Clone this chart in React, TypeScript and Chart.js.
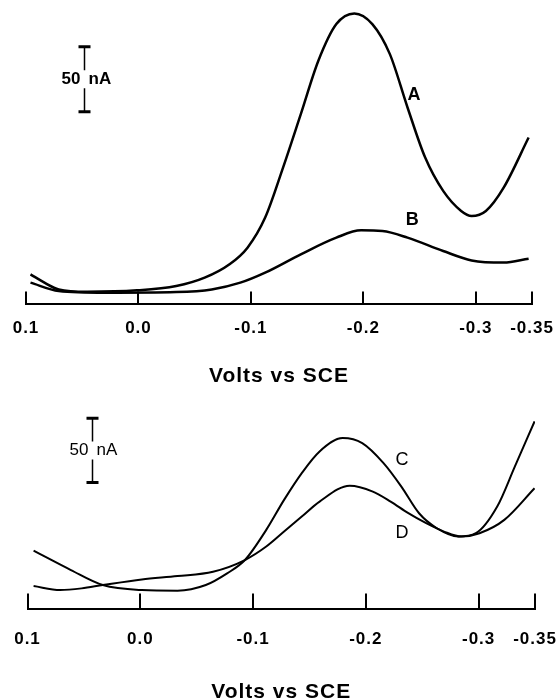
import React, { useEffect, useRef } from "react";
import Chart from "chart.js/auto";

// ---- shared axis ----
const tickValues = [0.1, 0.0, -0.1, -0.2, -0.3, -0.35];
const tickLabels = ["0.1", "0.0", "-0.1", "-0.2", "-0.3", "-0.35"];
const axisTitle = "Volts vs SCE";

// ---- top panel (A, B) : volts vs current (nA) ----
const voltsA = [0.096, 0.0836, 0.0709, 0.0456, 0.0012, -0.0336, -0.0589, -0.081, -0.097, -0.1127, -0.1286, -0.1444, -0.16, -0.176, -0.192, -0.208, -0.2236, -0.2393, -0.255, -0.271, -0.287, -0.2963, -0.309, -0.3248, -0.347];
const currentA = [23.1, 16.7, 11.5, 9.7, 10.8, 14.1, 20.5, 30.8, 43.6, 66.7, 105.1, 146.2, 187.2, 215.4, 223.6, 215.4, 192.3, 151.3, 112.8, 87.2, 71.8, 67.9, 71.8, 89.7, 128.2];

const voltsB = [0.096, 0.0709, 0.0297, -0.0336, -0.0652, -0.0906, -0.1127, -0.1444, -0.176, -0.198, -0.217, -0.2393, -0.271, -0.2963, -0.3248, -0.347];
const currentB = [16.7, 10.3, 9.0, 9.5, 11.5, 16.7, 24.4, 38.5, 51.3, 56.9, 56.4, 51.3, 41.0, 33.8, 32.1, 35.1];

// ---- bottom panel (C, D) ----
const voltsC = [0.0946, 0.0615, 0.0332, -0.0014, -0.033, -0.0581, -0.077, -0.0928, -0.1117, -0.1275, -0.1432, -0.159, -0.1795, -0.1968, -0.2157, -0.2315, -0.2472, -0.263, -0.2819, -0.2976, -0.3165, -0.3322, -0.3496];
const currentC = [45.8, 30.7, 19.0, 15.1, 14.6, 19.0, 28.1, 38.5, 62.0, 85.4, 106.3, 123.2, 133.6, 129.7, 114.1, 95.8, 75.0, 63.3, 56.8, 59.4, 80.2, 111.5, 146.6];

const voltsD = [0.0946, 0.071, 0.052, 0.0332, -0.0014, -0.033, -0.0645, -0.0928, -0.1117, -0.1275, -0.1432, -0.159, -0.1857, -0.2062, -0.222, -0.2377, -0.2535, -0.2693, -0.285, -0.3008, -0.3228, -0.3496];
const currentD = [18.2, 15.1, 16.4, 19.0, 23.4, 26.0, 29.4, 38.5, 49.0, 60.7, 72.4, 84.1, 96.4, 91.9, 84.1, 75.0, 67.2, 60.7, 56.8, 59.4, 69.8, 94.5];

const FONT = "'Liberation Sans', Arial, Helvetica, sans-serif";

const pts = (xs: number[], ys: number[]) => xs.map((v, i) => ({ x: v, y: ys[i] }));

const spacingPlugin = {
  id: "spacing",
  beforeInit(chart: any) {
    chart.ctx.letterSpacing = "1px";
  },
  beforeUpdate(chart: any) {
    chart.ctx.letterSpacing = "1px";
  },
  beforeDraw(chart: any) {
    chart.ctx.letterSpacing = "1px";
  },
};

const decorPlugin = {
  id: "decor",
  afterDatasetsDraw(chart: any, _args: any, opts: any) {
    const { ctx, chartArea } = chart;
    const x = chart.scales.x;
    const y = chart.scales.y;
    ctx.save();
    ctx.letterSpacing = "0px";
    ctx.strokeStyle = "#000";
    ctx.fillStyle = "#000";
    // upward tick marks
    ctx.lineWidth = 2;
    for (const v of tickValues) {
      const px = Math.round(x.getPixelForValue(v));
      ctx.beginPath();
      ctx.moveTo(px, chartArea.bottom);
      ctx.lineTo(px, chartArea.bottom - opts.tickLen);
      ctx.stroke();
    }
    // scale bar
    const bar = opts.bar;
    const bx = Math.round(x.getPixelForValue(bar.x)) + 0.5;
    const yTop = y.getPixelForValue(bar.to);
    const yBot = y.getPixelForValue(bar.from);
    const mid = (yTop + yBot) / 2;
    ctx.lineWidth = 1.5;
    ctx.beginPath();
    ctx.moveTo(bx, yTop);
    ctx.lineTo(bx, mid - 9);
    ctx.moveTo(bx, mid + 9);
    ctx.lineTo(bx, yBot);
    ctx.stroke();
    ctx.lineWidth = 3;
    ctx.beginPath();
    ctx.moveTo(bx - 6, yTop);
    ctx.lineTo(bx + 6, yTop);
    ctx.moveTo(bx - 6, yBot);
    ctx.lineTo(bx + 6, yBot);
    ctx.stroke();
    ctx.font = bar.font;
    ctx.textBaseline = "middle";
    ctx.textAlign = "right";
    ctx.fillText("50", bx - 4, mid);
    ctx.textAlign = "left";
    ctx.fillText("nA", bx + 4, mid);
    // curve letters
    ctx.textAlign = "center";
    for (const l of opts.letters) {
      ctx.font = l.font;
      ctx.fillText(l.text, x.getPixelForValue(l.x), y.getPixelForValue(l.y));
    }
    ctx.restore();
  },
};

type PanelProps = {
  width: number;
  height: number;
  top: number;
  series: { x: number; y: number }[][];
  lineWidth: number;
  yMax: number;
  pad: { left: number; right: number; top: number; bottom: number };
  tickPadding: number;
  titlePad: { top: number; bottom: number };
  decor: any;
};

function Panel(p: PanelProps) {
  const ref = useRef<HTMLCanvasElement | null>(null);
  useEffect(() => {
    if (!ref.current) return;
    const chart = new Chart(ref.current, {
      type: "line",
      data: {
        datasets: p.series.map((s) => ({
          data: s,
          borderColor: "#000",
          borderWidth: p.lineWidth,
          pointRadius: 0,
          fill: false,
          cubicInterpolationMode: "monotone" as const,
        })),
      },
      options: {
        animation: false,
        responsive: false,
        devicePixelRatio: 1,
        layout: { padding: p.pad },
        plugins: {
          legend: { display: false },
          tooltip: { enabled: false },
          decor: p.decor,
        } as any,
        scales: {
          x: {
            type: "linear",
            reverse: true,
            min: -0.35,
            max: 0.1,
            afterBuildTicks: (s: any) => {
              s.ticks = tickValues.map((v) => ({ value: v }));
            },
            afterFit: (s: any) => {
              s.paddingLeft = 0;
              s.paddingRight = 0;
            },
            ticks: {
              autoSkip: false,
              maxRotation: 0,
              minRotation: 0,
              padding: p.tickPadding,
              color: "#000",
              font: { family: FONT, size: 17, weight: "bold" },
              callback: (_v: any, i: number) => tickLabels[i],
            },
            grid: { display: false, drawTicks: false },
            border: { display: true, color: "#000", width: 2 },
            title: {
              display: true,
              text: axisTitle,
              color: "#000",
              font: { family: FONT, size: 21, weight: "bold", lineHeight: 1.2 },
              padding: p.titlePad,
            },
          },
          y: { display: false, min: 0, max: p.yMax },
        },
      },
      plugins: [spacingPlugin, decorPlugin],
    } as any);
    return () => chart.destroy();
  }, []);
  return (
    <canvas
      ref={ref}
      width={p.width}
      height={p.height}
      style={{ position: "absolute", left: 0, top: p.top, width: p.width, height: p.height }}
    />
  );
}

export default function App() {
  return (
    <div
      style={{
        position: "absolute",
        left: 0,
        top: 0,
        width: 557,
        height: 700,
        overflow: "hidden",
        background: "#fff",
      }}
    >
      <Panel
        width={557}
        height={393}
        top={0}
        series={[pts(voltsA, currentA), pts(voltsB, currentB)]}
        lineWidth={2.5}
        yMax={226.2}
        pad={{ left: 26, right: 25, top: 10, bottom: 0 }}
        tickPadding={14}
        titlePad={{ top: 11, bottom: 4 }}
        decor={{
          tickLen: 13,
          bar: { x: 0.0484, from: 148, to: 198, font: `bold 17px ${FONT}` },
          letters: [
            { text: "A", x: -0.245, y: 160.8, font: `bold 18px ${FONT}` },
            { text: "B", x: -0.2434, y: 64.6, font: `bold 18px ${FONT}` },
          ],
        }}
      />
      <Panel
        width={557}
        height={315}
        top={390}
        series={[pts(voltsC, currentC), pts(voltsD, currentD)]}
        lineWidth={2}
        yMax={163.3}
        pad={{ left: 27.5, right: 22, top: 10, bottom: 0 }}
        tickPadding={20}
        titlePad={{ top: 10, bottom: 0 }}
        decor={{
          tickLen: 16,
          bar: { x: 0.043, from: 99, to: 149, font: `17px ${FONT}` },
          letters: [
            { text: "C", x: -0.232, y: 116.4, font: `18px ${FONT}` },
            { text: "D", x: -0.232, y: 59.4, font: `18px ${FONT}` },
          ],
        }}
      />
    </div>
  );
}
